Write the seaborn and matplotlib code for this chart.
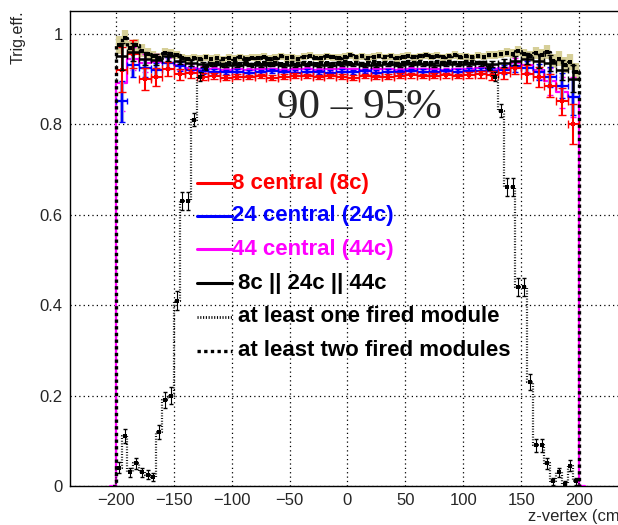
import numpy as np
import matplotlib
matplotlib.use("Agg")
import matplotlib.pyplot as plt
from matplotlib.lines import Line2D
from matplotlib.ticker import MultipleLocator
import seaborn as sns

# ---- binning (cm) ----
z10 = np.arange(-195.0, 200.0, 10.0)   # 10 cm bins
z5 = np.arange(-197.5, 200.0, 5.0)     # 5 cm bins

# ---- trigger efficiencies, 10 cm bins ----
eff_8c = [0.920, 0.955, 0.900, 0.905, 0.922, 0.910, 0.912, 0.905, 0.906, 0.903,
          0.905, 0.904, 0.906, 0.903, 0.905, 0.907, 0.906, 0.904, 0.906, 0.905,
          0.903, 0.906, 0.904, 0.905, 0.907, 0.908, 0.906, 0.907, 0.908, 0.906,
          0.909, 0.910, 0.908, 0.912, 0.925, 0.910, 0.905, 0.885, 0.850, 0.800]
err_8c = [0.050, 0.030, 0.025, 0.020, 0.015, 0.012, 0.010, 0.008, 0.006, 0.005,
          0.005, 0.005, 0.005, 0.005, 0.005, 0.005, 0.005, 0.005, 0.005, 0.005,
          0.005, 0.005, 0.005, 0.005, 0.005, 0.005, 0.005, 0.005, 0.005, 0.005,
          0.006, 0.008, 0.010, 0.012, 0.015, 0.020, 0.022, 0.025, 0.030, 0.045]

eff_24c = [0.850, 0.930, 0.925, 0.920, 0.935, 0.928, 0.920, 0.918, 0.916, 0.915,
           0.916, 0.914, 0.915, 0.917, 0.915, 0.914, 0.916, 0.915, 0.914, 0.916,
           0.915, 0.917, 0.914, 0.916, 0.915, 0.917, 0.916, 0.915, 0.917, 0.916,
           0.917, 0.918, 0.917, 0.920, 0.928, 0.925, 0.915, 0.905, 0.885, 0.860]
err_24c = [0.045, 0.025, 0.020, 0.016, 0.013, 0.010, 0.008, 0.007, 0.006, 0.005,
           0.005, 0.005, 0.005, 0.005, 0.005, 0.005, 0.005, 0.005, 0.005, 0.005,
           0.005, 0.005, 0.005, 0.005, 0.005, 0.005, 0.005, 0.005, 0.005, 0.005,
           0.006, 0.007, 0.008, 0.010, 0.012, 0.015, 0.018, 0.022, 0.028, 0.040]

eff_44c = [0.890, 0.945, 0.935, 0.938, 0.935, 0.930, 0.925, 0.922, 0.921, 0.920,
           0.921, 0.920, 0.922, 0.921, 0.920, 0.921, 0.922, 0.920, 0.921, 0.922,
           0.921, 0.920, 0.922, 0.921, 0.920, 0.922, 0.921, 0.922, 0.920, 0.921,
           0.922, 0.923, 0.922, 0.925, 0.935, 0.930, 0.920, 0.895, 0.870, 0.860]
err_44c = [0.060, 0.025, 0.020, 0.016, 0.012, 0.010, 0.008, 0.006, 0.005, 0.004,
           0.004, 0.004, 0.004, 0.004, 0.004, 0.004, 0.004, 0.004, 0.004, 0.004,
           0.004, 0.004, 0.004, 0.004, 0.004, 0.004, 0.004, 0.004, 0.004, 0.004,
           0.005, 0.006, 0.008, 0.010, 0.012, 0.015, 0.020, 0.030, 0.035, 0.045]

eff_or = [0.950, 0.960, 0.945, 0.942, 0.950, 0.940, 0.935, 0.932, 0.932, 0.931,
          0.930, 0.932, 0.931, 0.933, 0.930, 0.931, 0.932, 0.930, 0.931, 0.933,
          0.932, 0.931, 0.930, 0.932, 0.931, 0.933, 0.932, 0.931, 0.933, 0.932,
          0.933, 0.934, 0.933, 0.935, 0.940, 0.945, 0.940, 0.935, 0.920, 0.900]
err_or = [0.030, 0.020, 0.015, 0.012, 0.010, 0.008, 0.006, 0.005, 0.004, 0.004,
          0.004, 0.004, 0.004, 0.004, 0.004, 0.004, 0.004, 0.004, 0.004, 0.004,
          0.004, 0.004, 0.004, 0.004, 0.004, 0.004, 0.004, 0.004, 0.004, 0.004,
          0.004, 0.005, 0.006, 0.008, 0.010, 0.012, 0.015, 0.018, 0.022, 0.030]

# ---- module multiplicity efficiencies, 5 cm bins ----
eff_two = [0.975, 0.990, 0.968, 0.974, 0.962, 0.955, 0.950, 0.947, 0.958, 0.955,
           0.952, 0.946, 0.944, 0.947, 0.945, 0.948, 0.944, 0.946, 0.943, 0.947,
           0.945, 0.948, 0.944, 0.947, 0.946, 0.949, 0.945, 0.947, 0.950, 0.946,
           0.948, 0.945, 0.949, 0.951, 0.947, 0.946, 0.950, 0.948, 0.947, 0.949,
           0.952, 0.948, 0.950, 0.947, 0.949, 0.951, 0.948, 0.950, 0.946, 0.949,
           0.951, 0.948, 0.950, 0.952, 0.949, 0.951, 0.948, 0.950, 0.953, 0.949,
           0.950, 0.948, 0.951, 0.949, 0.953, 0.952, 0.955, 0.958, 0.956, 0.962,
           0.955, 0.950, 0.958, 0.952, 0.960, 0.940, 0.945, 0.930, 0.938, 0.915]
err_two = [0.020, 0.018, 0.016, 0.015, 0.014, 0.013, 0.012, 0.011, 0.010, 0.010,
           0.009, 0.009, 0.008, 0.008, 0.008, 0.008, 0.008, 0.008, 0.008, 0.008,
           0.008, 0.008, 0.008, 0.008, 0.008, 0.008, 0.008, 0.008, 0.008, 0.008,
           0.008, 0.008, 0.008, 0.008, 0.008, 0.008, 0.008, 0.008, 0.008, 0.008,
           0.008, 0.008, 0.008, 0.008, 0.008, 0.008, 0.008, 0.008, 0.008, 0.008,
           0.008, 0.008, 0.008, 0.008, 0.008, 0.008, 0.008, 0.008, 0.008, 0.008,
           0.008, 0.008, 0.008, 0.008, 0.008, 0.009, 0.009, 0.010, 0.010, 0.011,
           0.012, 0.012, 0.013, 0.014, 0.015, 0.016, 0.016, 0.018, 0.018, 0.020]

eff_one = [0.040, 0.110, 0.030, 0.050, 0.030, 0.025, 0.020, 0.120, 0.190, 0.200,
           0.410, 0.630, 0.630, 0.810, 0.905, 0.925, 0.932, 0.935, 0.930, 0.934,
           0.936, 0.933, 0.935, 0.931, 0.934, 0.936, 0.933, 0.935, 0.932, 0.934,
           0.936, 0.933, 0.935, 0.934, 0.932, 0.936, 0.934, 0.933, 0.935, 0.937,
           0.934, 0.936, 0.933, 0.935, 0.937, 0.934, 0.936, 0.935, 0.933, 0.936,
           0.938, 0.935, 0.937, 0.934, 0.936, 0.938, 0.935, 0.937, 0.936, 0.934,
           0.937, 0.938, 0.936, 0.935, 0.925, 0.905, 0.830, 0.660, 0.660, 0.440,
           0.440, 0.230, 0.090, 0.090, 0.050, 0.010, 0.030, 0.005, 0.045, 0.010]
err_one = [0.012, 0.015, 0.010, 0.012, 0.010, 0.010, 0.008, 0.015, 0.018, 0.018,
           0.020, 0.020, 0.020, 0.015, 0.010, 0.006] + [0.004] * 48 + \
          [0.006, 0.010, 0.015, 0.020, 0.020, 0.020, 0.020, 0.018, 0.015, 0.015,
           0.012, 0.008, 0.010, 0.006, 0.012, 0.008]

x_ticks = [-200, -150, -100, -50, 0, 50, 100, 150, 200]
y_ticks = [0, 0.2, 0.4, 0.6, 0.8, 1]

legend_entries = [
    ("8 central (8c)", "#ff0000", "-", 2.2, 232),
    ("24 central (24c)", "#0000ff", "-", 2.2, 232),
    ("44 central (44c)", "#ff00ff", "-", 2.2, 232),
    ("8c || 24c || 44c", "black", "-", 2.2, 238),
    ("at least one fired module", "black", (0, (0.4, 0.6)), 2.0, 238),
    ("at least two fired modules", "black", (0, (1.0, 1.0)), 2.4, 238),
]

W, H = 618, 525
sns.set_style("white")
plt.rcParams["font.family"] = ["Liberation Sans", "DejaVu Sans"]
plt.rcParams["axes.unicode_minus"] = True

fig = plt.figure(figsize=(W / 100, H / 100), dpi=100)
fig.patch.set_facecolor("white")
# x-axis runs past the right border of the canvas
ax = fig.add_axes([69.5 / W, (H - 486) / H, (625.5 - 69.5) / W, (486 - 11) / H])
ax.set_xlim(-240, 240)
ax.set_ylim(0, 1.05)


def padded(z, vals, half):
    zz = np.concatenate([[z[0] - 2 * half], z, [z[-1] + 2 * half]])
    vv = np.concatenate([[0.0], vals, [0.0]])
    return zz, vv


# khaki error boxes with black square markers (two fired modules)
ax.errorbar(z5, eff_two, yerr=err_two, fmt="none", ecolor="#d6cf98",
            elinewidth=4.5, capsize=0, zorder=2)

# 44c histogram outline, closed to zero at the acceptance edges
zz, vv = padded(z10, eff_44c, 5.0)
sns.lineplot(x=zz, y=vv, ax=ax, drawstyle="steps-mid", color="#ff00ff",
             lw=1.6, sort=False, estimator=None, zorder=3)
ax.errorbar(z10, eff_44c, yerr=err_44c, fmt="none", ecolor="#ff00ff",
            elinewidth=1.2, capsize=2.5, zorder=3)

# 24c
ax.errorbar(z10, eff_24c, yerr=err_24c, fmt="none", ecolor="#a8a8e0",
            elinewidth=3, capsize=0, zorder=3)
ax.errorbar(z10, eff_24c, xerr=5, yerr=err_24c, fmt="none", ecolor="#0000ff",
            elinewidth=1.6, capsize=2.5, zorder=4)

# 8c
ax.errorbar(z10, eff_8c, xerr=5, yerr=err_8c, fmt="none", ecolor="#ff0000",
            elinewidth=1.5, capsize=3, zorder=4)
sns.scatterplot(x=z10, y=eff_8c, ax=ax, marker="s", s=9, color="#ff0000",
                linewidth=0, zorder=4)

# 8c || 24c || 44c
ax.errorbar(z10, eff_or, xerr=5, yerr=err_or, fmt="none", ecolor="black",
            elinewidth=1.8, capsize=2, zorder=5)

# at least two fired modules: square-dot outline + markers
zz, vv = padded(z5, eff_two, 2.5)
sns.lineplot(x=zz, y=vv, ax=ax, drawstyle="steps-mid", color="black",
             lw=2.4, linestyle=(0, (1.0, 1.0)), sort=False, estimator=None,
             zorder=6)
sns.scatterplot(x=z5, y=eff_two, ax=ax, marker="s", s=10, color="black",
                linewidth=0, zorder=6)

# at least one fired module: fine-dot outline + small markers
zz, vv = padded(z5, eff_one, 2.5)
sns.lineplot(x=zz, y=vv, ax=ax, drawstyle="steps-mid", color="black",
             lw=1.6, linestyle=(0, (0.4, 0.8)), sort=False, estimator=None,
             zorder=7)
ax.errorbar(z5, eff_one, yerr=err_one, fmt="none", ecolor="black",
            elinewidth=0.8, capsize=1.5, zorder=7)
sns.scatterplot(x=z5, y=eff_one, ax=ax, marker="s", s=5, color="black",
                linewidth=0, zorder=7)

# axes styling
ax.set_xticks(x_ticks)
ax.set_yticks(y_ticks)
ax.set_yticklabels(["0", "0.2", "0.4", "0.6", "0.8", "1"])
ax.xaxis.set_minor_locator(MultipleLocator(10))
ax.yaxis.set_minor_locator(MultipleLocator(0.05))
ax.tick_params(which="major", direction="in", length=12, width=1,
               labelsize=12, top=False, right=False, color="black")
ax.tick_params(which="minor", direction="in", length=6, width=1,
               top=False, right=False, color="black")
ax.tick_params(axis="x", which="major", pad=5)
ax.tick_params(axis="y", which="major", pad=5)
ax.grid(True, which="major", linestyle=(0, (1, 2.5)), color="black", lw=0.9)
ax.set_axisbelow(True)
for side in ["left", "bottom", "top", "right"]:
    ax.spines[side].set_color("black")
    ax.spines[side].set_linewidth(1)
ax.set_xlabel("")
ax.set_ylabel("")

fig.text(18 / W, 1 - 10 / H, "Trig.eff.", rotation=90, ha="center",
         va="top", fontsize=11.5)
fig.text(625 / W, 1 - 521 / H, "z-vertex (cm)", ha="right",
         va="baseline", fontsize=12)
fig.text(359 / W, 1 - 118 / H, "90 \u2013 95%", ha="center", va="baseline",
         fontsize=31, family=["Liberation Serif", "DejaVu Serif"])

# legend
y_rows = [183, 216, 249, 283, 317, 351]
for (label, col, ls, lw, tx), yp in zip(legend_entries, y_rows):
    fig.add_artist(Line2D([197 / W, 232 / W], [1 - yp / H, 1 - yp / H],
                          color=col, linestyle=ls, lw=lw))
    fig.text(tx / W, 1 - yp / H, label, color=col, ha="left", va="center",
             fontsize=16, fontweight="bold")

fig.savefig("out.png", dpi=100, facecolor="white")
